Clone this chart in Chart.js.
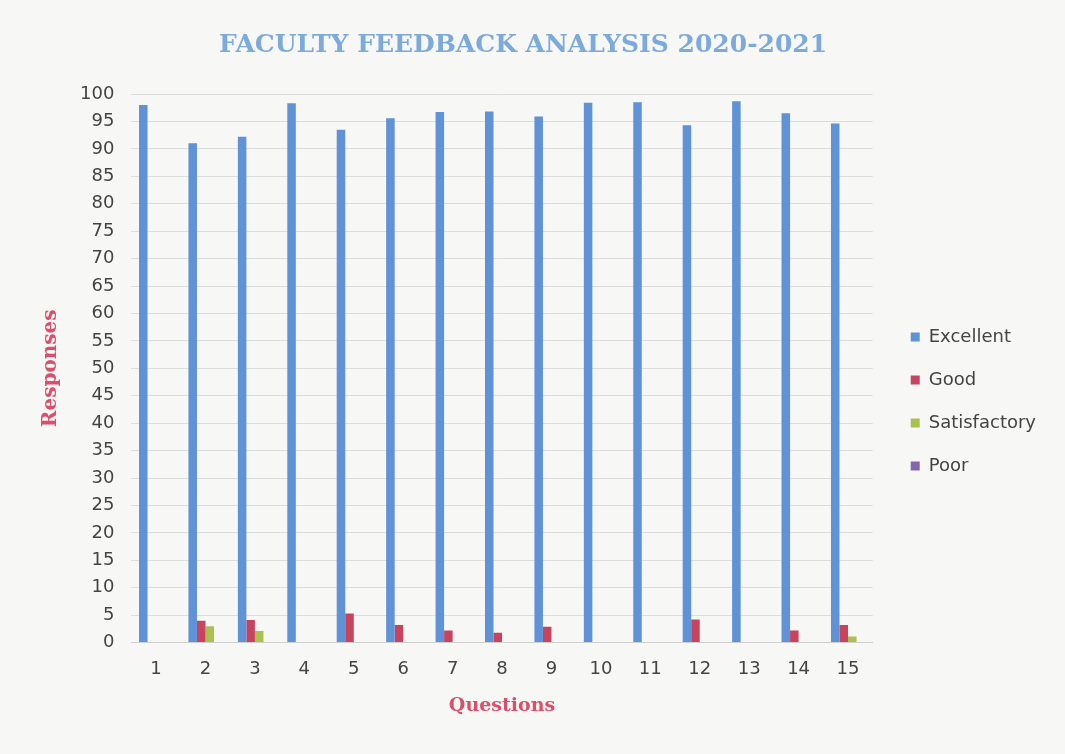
<!DOCTYPE html>
<html>
<head>
<meta charset="utf-8">
<script src="https://cdn.jsdelivr.net/npm/chart.js@4"></script>
<style>
  html, body { margin: 0; padding: 0; background: #f7f7f5; }
  #wrap { width: 1065px; height: 754px; }
</style>
</head>
<body>
<div id="wrap"><canvas id="myChart" width="1065" height="754"></canvas></div>
<script>
const questions = ['1', '2', '3', '4', '5', '6', '7', '8', '9', '10', '11', '12', '13', '14', '15'];
const excellent = [98, 91, 92.2, 98.3, 93.5, 95.6, 96.7, 96.8, 95.9, 98.4, 98.5, 94.3, 98.7, 96.5, 94.6];
const good = [0, 4, 4.1, 0, 5.3, 3.2, 2.2, 1.8, 2.9, 0, 0, 4.2, 0, 2.2, 3.2];
const satisfactory = [0, 3, 2.1, 0, 0, 0, 0, 0, 0, 0, 0, 0, 0, 0, 1.1];
const poor = [0, 0, 0, 0, 0, 0, 0, 0, 0, 0, 0, 0, 0, 0, 0];
const yTicks = [0, 5, 10, 15, 20, 25, 30, 35, 40, 45, 50, 55, 60, 65, 70, 75, 80, 85, 90, 95, 100];

const ctx = document.getElementById('myChart').getContext('2d');

const serif = '"DejaVu Serif", "Liberation Serif", serif';
const sans = '"DejaVu Sans", "Liberation Sans", sans-serif';

let chart = new Chart(ctx, {
  type: 'bar',
  data: {
    labels: questions,
    datasets: [
      { label: 'Excellent', data: excellent, backgroundColor: '#5f92d6' },
      { label: 'Good', data: good, backgroundColor: '#c8435e' },
      { label: 'Satisfactory', data: satisfactory, backgroundColor: '#a9c14e' },
      { label: 'Poor', data: poor, backgroundColor: '#8466b0' }
    ]
  },
  options: {
    responsive: false,
    animation: false,
    layout: { padding: { left: 35, right: 19, top: 0, bottom: 37 } },
    datasets: {
      bar: { categoryPercentage: 0.69, barPercentage: 1 }
    },
    plugins: {
      title: {
        display: true,
        // trailing spaces nudge the centred title a little to the left
        text: 'FACULTY FEEDBACK ANALYSIS 2020-2021\u00a0\u00a0\u00a0\u00a0',
        color: '#7caadb',
        font: { family: serif, weight: 'bold', size: 25 },
        padding: { top: 30, bottom: 34 }
      },
      legend: {
        position: 'right',
        title: { display: true, text: ' ', font: { size: 20 }, padding: 31 },
        labels: {
          boxWidth: 9,
          boxHeight: 9,
          padding: 25,
          color: '#444',
          font: { family: sans, size: 18 }
        }
      },
      tooltip: { enabled: false }
    },
    scales: {
      x: {
        grid: { display: false },
        border: { color: '#cfcfcf' },
        ticks: { color: '#444', font: { family: sans, size: 18 }, padding: 8 },
        title: {
          display: true,
          text: 'Questions',
          color: '#d8506c',
          font: { family: serif, weight: 'bold', size: 19 },
          padding: { top: 6, bottom: 0 }
        }
      },
      y: {
        min: 0,
        max: 100,
        afterBuildTicks: (axis) => { axis.ticks = yTicks.map(v => ({ value: v })); },
        grid: { color: '#dcdcdc', drawTicks: false },
        border: { display: false },
        ticks: { color: '#444', font: { family: sans, size: 18 }, padding: 17 },
        title: {
          display: true,
          text: 'Responses',
          color: '#d8506c',
          font: { family: serif, weight: 'bold', size: 20 },
          padding: { top: 4, bottom: 0 }
        }
      },
      // empty spacer between plot and legend
      spacer: {
        position: 'right',
        display: true,
        grid: { display: false },
        border: { display: false },
        ticks: { display: false },
        afterFit: (axis) => { axis.width = 13; }
      }
    }
  }
});
</script>
</body>
</html>
